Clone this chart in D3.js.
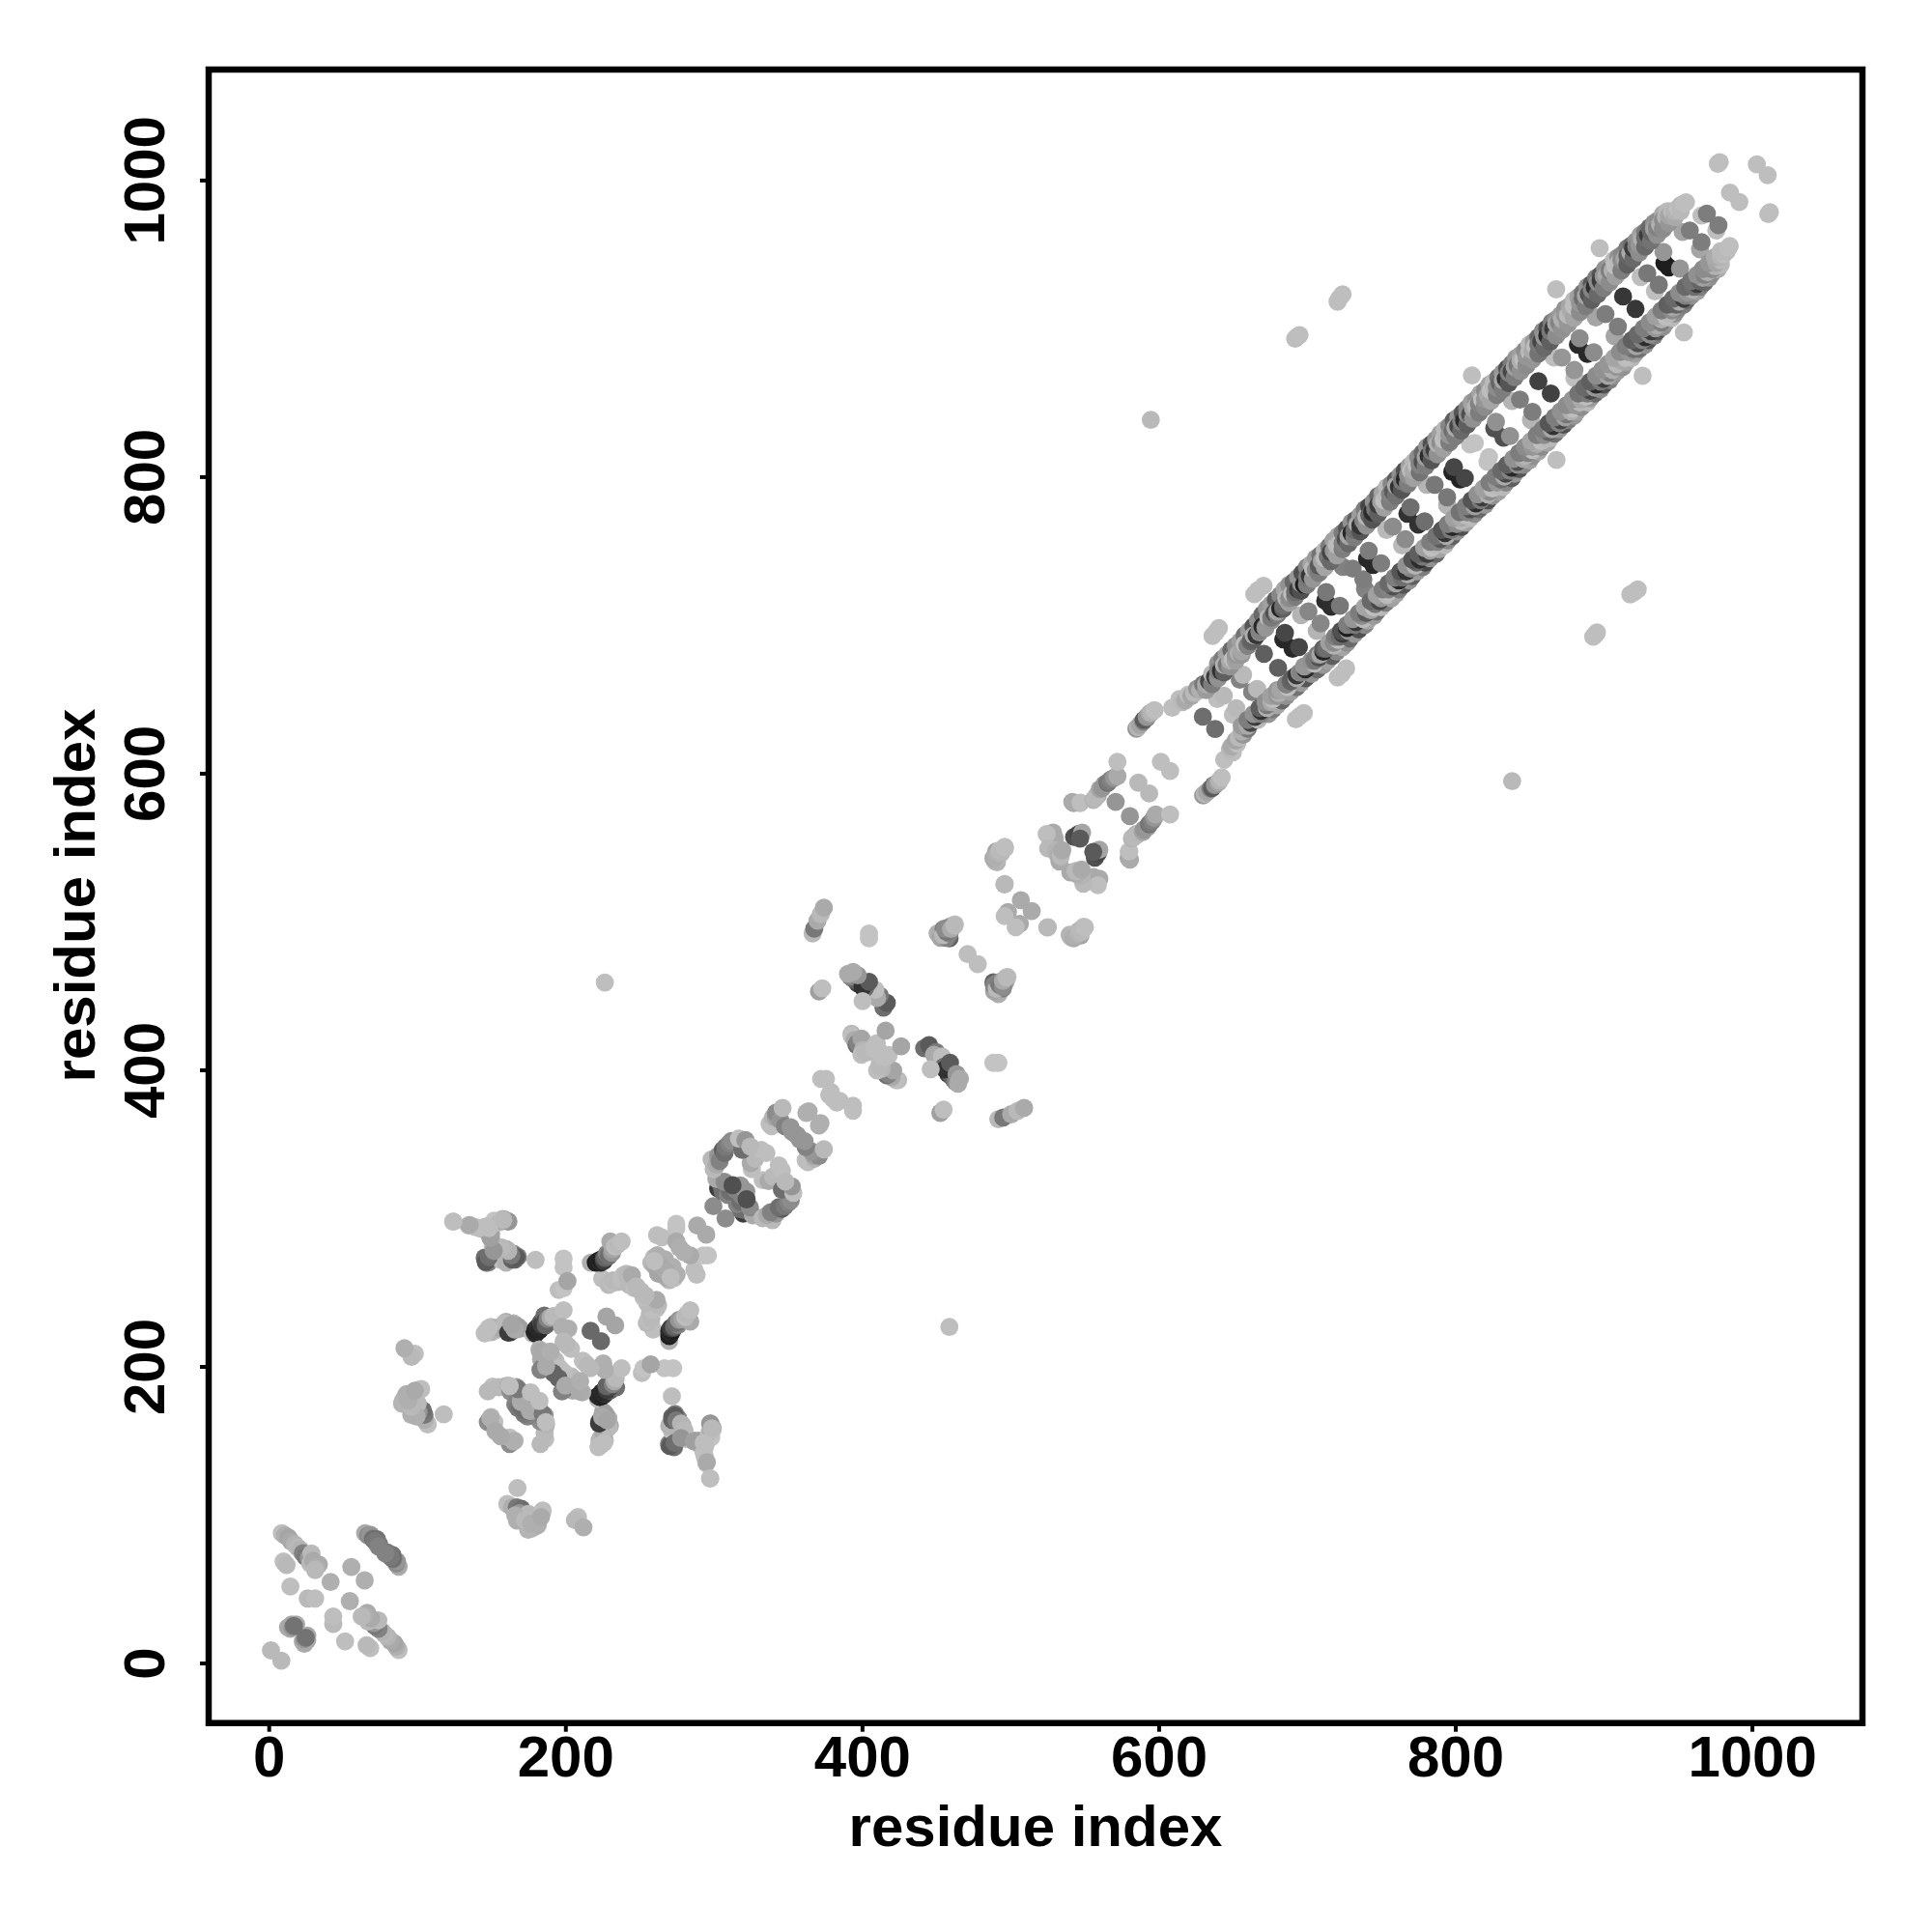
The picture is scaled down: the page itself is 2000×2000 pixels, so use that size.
<!DOCTYPE html>
<html>
<head>
<meta charset="utf-8">
<script src="https://cdn.jsdelivr.net/npm/d3@7"></script>
<style>
html,body{margin:0;padding:0;background:#fff;}
svg{display:block;}
text{font-family:"Liberation Sans",Arial,sans-serif;font-weight:bold;fill:#000;}
</style>
</head>
<body>
<svg id="chart" width="2000" height="2000"></svg>
<script>
// Each row: residue i, residue j, grey level. Every contact is shown at (i,j) and (j,i).
const tickLabels = [0, 200, 400, 600, 800, 1000];
const axisTitle = "residue index";

const originContacts = [
[1.5,8.5,185],[8.8,87.6,190],[10,68.4,190],[12,66,185],[11,86,175],[13.3,84.6,165],[15,82,170],[17.6,80.1,180],[19.5,78,185],[21.3,76.4,180],[23,74,130],[25,71.4,120],[27,71,150],[28,67,185],[28.8,73.9,185],[30,69,170],[33.8,66.4,170],[32,64.5,175],[31.3,62.7,185],
[55.7,64.7,175],[41.7,54.7,175],[14.6,51.5,190],[26.3,43.5,185],[31.3,43.5,190],[13,24,170],[14.5,23,170],[15.5,26,170],[18.5,26,170],[16,24,150],[17,25,115],
[65,87.6,170],[67,86,140],[68.7,86.4,150],[70,84,130],[72.9,83.4,115],[72.4,81.4,125],[70.5,83.5,110],[71.4,82.4,120],[74.5,80,120],[73.9,78.6,130]
];
const sideContacts = [
[92.3,179.9,170],[90.5,177,180],[94,176,175],[95,178,170],[101.6,184.3,175],[99,182,175],[89.9,174.9,180],[97,174,150],[100,170,125],[98.6,171.1,120],[103.6,169.9,130],[96.1,167.4,175],[106.6,161.9,185],[118,167.7,190],
[107.2,160.8,190],[105,164,175],[105,167.3,120],[103.9,170.5,110],[101,169,150],[97,176,170],[100.5,175,185],[99.6,166.2,175],[96.3,172.7,185],[94.1,177,175],[93,181.4,175],[102.8,184.7,190],[98.5,183.6,170],
[98.5,208.5,190],[96.3,206.4,185],[91.5,212.2,175],
[124.3,297.6,195],[134.7,295,190],[139,294,190],[143.4,292.9,195],[146,292,180],[147.7,291.8,165],[148,290,170],[149.9,289.6,160],[150,286,175],[152,298.3,195],[155,297,190],[157,298,170],[157.5,299.4,190],[159,299,165],[161.4,297.9,170],
[146.6,270,145],[148,270,130],[145.6,273.3,110],[149,272,120],[148.8,272.2,90],[150,274,170],[152,275.5,150],[151,281,190],[153,279,185],[154.3,278.7,185],[156,276,150],[157.5,277.7,190],[159,275,110],[160,279,155],[160.8,276,120],[162,274,70],[163,273,80],[156,272,190],[160,270,180],[164,272,100],[164,274.8,85],[165,276,130],[166,272,95],[168,274,130],[179.9,271.8,190],
[198.8,272.7,195],[198.8,266.8,195],[195.5,251.6,190],[198.8,252.7,195],[201.4,257.5,165]
];
const knotContacts = [
[145.6,222.3,190],[147,224,185],[148,224,190],[149.9,226.6,190],[150,223,185],[152,224,180],[152,226,180],[155,226,170],[158.6,228.8,175],[160,230,170],[160.8,225.5,140],[162,228,165],[162,225,110],[163,223,80],[164,226.6,150],[165,229,175],[166,226,150],[167,225,150],[169.5,225.5,165],
[178,222,185],[179.2,223.4,30],[180,222,40],[180,225,35],[181.4,226.6,50],[182.5,224.4,40],[183.6,229.9,90],[184,228,60],[185.8,234.2,110],[186,230,70],[186.8,227.7,100],[188,232,130],[190,233.1,170],[192,234,185],[198.8,237.9,190],[197.7,226.6,175],[202,225.5,175],
[227.7,233.6,165],[217,224,105],
[182.5,211.4,175],[183.6,204.9,170],[184.7,199.5,130],[189,199.5,100],[193.4,203.8,190],[202,213.6,185],[198.8,216.8,185],[203.8,211.8,190],
[200.5,215,185],[191.9,205.3,185],[196.2,198.8,190],[191.9,195.5,100],[183.2,197.7,130],[183.2,209.6,170],[187,200,170],[190,210,175],
[151,186.4,190],[147.7,183.2,185],[155,186,185],[158.6,186.4,185],[161,187,180],[163,183,140],[165.1,185.4,130],[167,186,150],[169.5,183.2,175],[174.9,182.1,190],[166.2,174.5,130],[168,172,120],[170,174,120],[172.7,170.1,110],[170,178,150],[174,176,140],[176,170,170],[168,184.7,120],[162.5,186.8,190],[176.7,182.5,190],
[147.7,162.5,140],[149.9,165.8,185],[152.1,162.5,190],[149.5,165.1,175],[152.8,156.4,170],
[168,227,160],[159.3,229.2,185],[146.3,222.7,190],[148.4,225.9,190],[161.5,222.7,60],[165.8,224.8,170],[163.6,228.1,165],
[166.9,273.7,90],[163.6,274.8,120],[161.5,278,180],[157.1,280.2,185],[146.3,270.5,90],[148.4,273.7,110],[151.7,278,150],[149.5,286.7,160],[148.4,293.3,190],[161.5,297.6,150],[158.2,298.7,185],[146.3,294.3,190],[141.9,293.3,190],[135.4,295.4,170],[124.5,297.6,190]
];
const shoulderContacts = [
[224.8,259.2,190],[229.2,254.9,185],[231.4,255.9,190],[232,258,185],[235.7,257,185],[238,259,190],[239,261.4,190],[241.1,262.5,185],[243,255,185],[244.8,261.4,170],[246.6,252.7,190],[248,254,185],[251,250.5,185],
[217.2,270,175],[220.5,270,30],[222,271,35],[223.8,270,40],[224,272,30],[225.9,271.1,60],[226,273,80],[227,273.3,100],[228,276,130],[229.2,274.4,110],[231.4,276.6,150],[232,279,165],[230.3,284.2,170],[233.5,280.9,190],[235,282,185],[237.9,284.2,190],
[261.8,288.5,190],[265,287,190],[274.8,296.1,195],[274.8,293,195],[274.8,284.2,170],[277,280,175],[288.9,295,170],
[258,270,185],[259.6,273.3,190],[260,268,170],[261.8,271.1,165],[262,275,175],[264,268,155],[266,270,165],[267.2,272.2,175],[262.9,262.5,165],[268,264,170],[271,260,190],
[299.8,308,140]
];
const ringContacts = [
[303,320,60],[305,322,100],[306,318,110],[309.4,315.7,130],[311,318,110],[315,319,130],[318,322,150],[301.8,326.5,170],[307.3,324.4,140],[312.7,322.2,80],[325.7,333,190],[325,337,170],[328,340,185],[332,346,190],
[298.6,339.6,185],[300,333,185],[302,336,170],[303,342,150],[304,338.5,130],[306.2,346,90],[307.3,343.9,110],[308,348,120],[310.5,350.4,130],[312,352,140],[319.2,346,110],[317,353.7,190],[321.4,352.6,150],[324.7,348.3,185],[335.5,343.9,190],
[337.7,363.5,190],[339,362,190],[339.9,367.8,180],[342,368,160],[342,371,140],[345,366,150],[346.4,374.3,185],[348,362,130],[351.8,361.3,150],[353,358,150],[356.2,355.9,150],[362.5,371,175],[364,372,175],
[372.4,393.9,190],[375.7,393.9,190],[377.9,383,190],[381,380,190],[385,379,190],
[393,424.3,185],[393,423,190],[395,420,170],[396.3,416.7,110],[397,418,130],[399.6,421,165],[400.7,413.4,180],[399.6,410.2,190],[402,412,185],[404,412,185],[408.3,415.6,190],[410,418,190],[412,412,190],[413.7,409,190],[415.9,426.4,165],
[414.5,441.9,110],[416.7,445.2,90],[412,450,120],[410.2,448.5,170],[405,452,170],[409,453.9,190],[403,457,150],[402,455,110],[397.1,458.2,60],[399,458,70],[396,460,90],[393.9,461.5,100],[392,463,130],[400.4,456,50],[404.7,459.3,90],[397.1,463.7,150],[394,466,170],[390.6,464.7,170],[400.4,446.3,190],
[404.7,488.6,195],[404.7,491.9,195],
[366.7,491.9,185],[367.8,495.2,120],[370,500.6,170],[372.2,504.9,185],[374.3,509.3,170],
[371,452.8,160],[373.2,455,190],[226.6,458.9,190]
];
const linkContacts = [
[451,492,175],[453.9,490.5,190],[453,489,165],[456,493,130],[457,491.6,100],[458.2,496,170],[455,494.9,120],[460,497,150],[462.6,498.1,190],[471.2,478,190],
[488.6,459,100],[489,457,130],[490.8,454.7,185],[491.9,459,130],[493,457,120],[495.1,455.8,140],[495,460,170],[497.3,462.3,185],[496.2,525.3,185],
[507.1,514.4,170],[498.4,506.4,170],[496.2,503.6,190],[524.9,496,185],
[540.8,489.5,185],[540,491,180],[543,490,175],[544,491.6,190],[546,492,170],[546.2,493.8,185],[547.3,490.5,165],[548,494,190],[549.4,496.4,190],
[488.6,542.7,170],[490,543,175],[491.9,545.9,180],[493,548,190],[494,547,185],[496.2,550.3,190],
[527,552,185],[528.8,560,170],[530,556,170],[524.5,559,190],[525.5,549.2,185],[531,548,180],[532,544.8,175],[533.1,540.5,170],[534,544,185],[535,548,170],
[543,557,80],[546,559,70],[547,557,80],[548.4,560,165],[547,555.9,90],[579.8,547,190],[579.8,542.7,165],
[541.8,580.7,170],[547.3,580.2,190],[556,582,180],[557,583,185],[559,585,175],
[558.1,584.9,185],[560.3,589.3,165],[562,590,150],[563.5,592.5,150],[565.7,593.6,100],[566,594,120],[567.9,595.8,130],[570,597,150],[572.2,598,170],[572.2,607.7,190],[571,580.6,150],
[601.5,607.7,190],[586.3,593.6,185],
[585,630,150],[586,631,180],[587.4,632.7,165],[589.6,634.9,130],[590,636,90],[591.8,637.1,100],[592,638,150],[593.9,640.3,165],[595,641,180],[597.2,642.5,190],[609.1,644.2,190]
];
const outlierContacts = [
[636.3,692.5,190],[638.5,695,190],[640.6,697.9,190],[664.5,720.7,190],[667,723.5,190],[670.7,726.4,190],
[692,893,190],[693.5,894.5,190],[695,895.5,190],[720.6,918,190],[722,920.5,190],[724,923,190],
[594.7,838.3,185],[811.2,868.2,190],[868,926.3,190],[897.3,954.1,190],
[978.3,1012.1,190],[977,1011,190],[1003.3,1010.6,190],[985.2,991.5,190]
];
const rungContacts = [
[629.8,638.1,110],[639.5,650,190],[643.9,652.3,185],[654.7,663,130],[656.9,666.4,185],[671,680.5,95],[684,690.3,40],[685.1,694.6,70],
[696,706.6,180],[701,709.2,135],[712.3,716.3,45],[712.9,722.2,120],[724.2,739.1,130],[730.8,738,125],[740.5,744.6,40],[741.6,750,125],
[753.6,764.1,185],[757.9,766.3,140],[767.7,775,50],[769.8,779.3,110],[780.7,794.5,180],[786.1,794.5,120],[798,803.2,35],[799.1,806.4,70],
[810,821.7,195],[813.2,822.7,195],[826.3,832.5,80],[827.4,836.9,145],[838.2,851,180],[843.6,852,125],[856,864.4,65],
[866.5,880.3,190],[871.9,880.3,150],[882.7,889,40],[883.8,893.3,140],[894.7,907.4,165],[901.2,909.6,125],[913.1,921.5,55],
[925,934.6,190],[929.4,937.2,120],[941,944,30],[940.3,951.5,150],[953.3,965,165],[958.1,966,125],[966,976,190],[969.6,977.4,125]
];
const strandContacts = [
[614,650,190],[616,648,185],[618,649,170],[620,653,190],[622,652,165],[624,654,185],[626,657,150],[628,656,175],[630,660,120],[632,660,170],
[634,662,70],[636,667,185],[638,665,60],[640,669,130],[642,669,50],[644,673,175],[646,673,120],[648,676,170],[650,677,190],[652,680,150],
[654,681,175],[656,682,165],[658,687,190],[660,686,130],[662,689,100],[664,693,170],[666,693,55],[668,696,130],[670,699,40],[672,698,150],
[674,705,185],[676,705,120],[678,708,80],[680,709,165],[682,711,35],[684,713,110],[686,718,180],[688,718,140],[690,721,190],[692,722,110],
[694,724,60],[696,728,150],[698,727,30],[700,732,120],[702,733,55],[704,738,185],[706,737,140],[708,740,90],[710,743,165],[712,745,190],
[714,746,120],[716,749,70],[718,750,150],[720,754,185],[722,755,190],[724,755,130],[726,758,80],[728,760,165],[730,762,40],[732,764,110],
[734,768,170],[736,767,50],[738,770,130],[740,773,180],[742,774,100],[744,776,45],[746,778,120],[748,781,60],[750,783,160],[752,784,190],
[754,787,185],[756,788,130],[758,790,90],[760,794,170],[762,793,50],[764,797,120],[766,798,40],[768,801,140],[770,804,185],[772,804,170],
[774,807,190],[776,808,130],[778,810,80],[780,813,160],[782,814,45],[784,817,120],[786,818,60],[788,822,175],[790,823,140],[792,825,190],
[794,827,185],[796,828,150],[798,831,110],[800,833,170],[802,834,70],[804,837,130],[806,838,40],[808,842,140],[810,842,80],[812,846,165],
[814,847,180],[816,849,130],[818,852,190],[820,852,150],[822,855,170],[824,858,190],[826,860,185],[828,860,140],[830,863,100],[832,865,165],
[834,866,50],[836,870,130],[838,871,70],[840,874,160],[842,875,120],[844,878,175],[846,879,190],[848,881,150],[850,884,185],[852,885,170],
[854,888,190],[856,889,120],[858,891,70],[860,894,150],[862,895,40],[864,898,120],[866,900,60],[868,903,165],[870,904,130],[872,906,175],
[874,909,150],[876,909,185],[878,912,170],[880,915,190],[882,917,190],[884,917,150],[886,920,110],[888,922,165],[890,923,80],[892,926,130],
[894,928,45],[896,931,140],[898,932,60],[900,935,150],[902,936,170],[904,939,125],[906,939,175],[908,942,190],[910,944,185],[912,946,140],
[914,947,165],[916,949,100],[918,951,170],[920,954,60],[922,955,130],[924,957,150],[926,960,175],[928,961,110],[930,963,60],[932,965,100],
[934,967,160],[936,968,130],[938,970,175],[940,973,140],[942,975,180],[944,976,165],[946,979,185],[948,979,180],[950,981,190],[952,983,185],
[954,984,190],[955.5,985,190]
];
const strandOuterContacts = [
[640,674,150],[643,677,125],[646,680,165],[649,683,105],[652,686,145],[655,689,160],[658,693,115],[661,696,155],[664,699,85],[667,703,145],[670,707,105],[673,711,150],[676,714,160],[679,717,95],[682,720,135],[685,724,165],[688,727,145],[691,729,105],[694,732,150],[697,735,80],
[700,739,135],[703,741,165],[706,745,155],[709,747,115],[712,750,185],[715,753,125],[718,757,160],[721,760,165],[724,762,125],[727,765,85],[730,769,145],[733,771,95],[736,774,155],[739,778,125],[742,780,70],[745,783,145],[748,787,105],[751,789,165],[754,793,185],[757,795,135],
[760,798,95],[763,801,145],[766,804,80],[769,807,160],[772,810,185],[775,813,140],[778,816,105],[781,820,150],[784,822,80],[787,825,145],[790,829,160],[793,832,185],[796,834,135],[799,838,95],[802,840,150],[805,843,85],[808,846,135],[811,850,160],[814,852,145],[817,856,165],
[820,858,140],[823,862,165],[826,864,185],[829,867,115],[832,870,150],[835,873,80],[838,876,125],[841,880,150],[844,882,160],[847,885,140],[850,889,185],[853,891,155],[856,894,105],[859,898,140],[862,900,80],[865,904,125],[868,906,145],[871,909,155],[874,913,145],[877,915,165],
[880,919,185],[883,921,160],[886,924,115],[889,928,145],[892,930,85],[895,934,125],[898,936,85],[901,940,145],[904,942,150],[907,946,185],[910,948,145],[913,950,135],[916,954,125],[919,956,105],[922,959,145],[925,963,160],[928,965,125],[931,968,105],[934,971,145],[937,973,140],
[940,977,170],[943,979,185]
];
const strandInnerContacts = [
[632,656,155],[636,660,125],[640,664,145],[644,668,95],[648,672,145],[652,676,160],[656,680,150],[660,686,125],[664,690,95],[668,695,145],[672,699,85],[676,703,145],[680,707,125],[684,711,95],[688,715,160],[692,719,125],[696,723,80],[700,727,125],[704,731,150],[708,735,125],
[712,739,165],[716,743,105],[720,747,160],[724,751,125],[728,755,105],[732,759,125],[736,763,85],[740,767,145],[744,771,85],[748,775,95],[752,779,160],[756,783,125],[760,787,115],[764,791,85],[768,795,125],[772,799,160],[776,803,115],[780,807,125],[784,811,85],[788,815,145],
[792,819,160],[796,823,125],[800,827,125],[804,831,105],[808,835,95],[812,839,145],[816,843,125],[820,847,140],[824,851,165],[828,855,125],[832,859,125],[836,863,85],[840,867,125],[844,871,145],[848,875,140],[852,879,150],[856,883,115],[860,887,105],[864,891,95],[868,895,140],
[872,899,145],[876,903,150],[880,907,165],[884,911,140],[888,915,125],[892,919,95],[896,923,105],[900,927,125],[904,931,140],[908,935,160],[912,939,125],[916,943,95],[920,947,105],[924,951,140],[928,955,105],[932,959,115],[936,963,145],[940,967,140],[944,971,150],[948,975,170],
[952,979,185]
];

const looseGroups = [originContacts, sideContacts, knotContacts, shoulderContacts, ringContacts, linkContacts, outlierContacts, rungContacts];
const strandGroups = [strandOuterContacts, strandInnerContacts, strandContacts];

const frame = {left: 216, right: 1928, top: 72, bottom: 1783.7};
const x = d3.scaleLinear().domain([-40.5, 1074.5]).range([frame.left, frame.right]);
const y = d3.scaleLinear().domain([-40.5, 1074.5]).range([frame.bottom, frame.top]);
const svg = d3.select("#chart");

const bothWays = ([i, j, g]) => [{a: i, b: j, g}, {a: j, b: i, g}];
const strandRows = strandGroups.flat().sort((p, q) => p[0] - q[0]);
const points = looseGroups.flat().flatMap(bothWays).concat(strandRows.flatMap(bothWays));
svg.append("g").selectAll("circle").data(points).join("circle")
  .attr("cx", d => x(d.a)).attr("cy", d => y(d.b)).attr("r", 9.4)
  .attr("fill", d => d3.rgb(d.g, d.g, d.g));

const xAxis = svg.append("g").attr("transform", `translate(0,${frame.bottom})`)
  .call(d3.axisBottom(x).tickValues(tickLabels).tickFormat(d3.format("d")).tickSize(9).tickSizeOuter(0));
const yAxis = svg.append("g").attr("transform", `translate(${frame.left},0)`)
  .call(d3.axisLeft(y).tickValues(tickLabels).tickFormat(d3.format("d")).tickSize(9).tickSizeOuter(0));
[xAxis, yAxis].forEach(a => {
  a.select(".domain").remove();
  a.selectAll("line").attr("stroke", "#000").attr("stroke-width", 4);
  a.selectAll("text").attr("font-size", 60).attr("fill", "#000");
});
xAxis.selectAll("text").attr("y", 55).attr("dy", 0).attr("text-anchor", "middle");
yAxis.selectAll("text").attr("x", 0).attr("dy", 0).attr("text-anchor", "middle")
  .attr("transform", "translate(-46,0) rotate(-90)");

svg.append("rect").attr("x", frame.left).attr("y", frame.top)
  .attr("width", frame.right - frame.left).attr("height", frame.bottom - frame.top)
  .attr("fill", "none").attr("stroke", "#000").attr("stroke-width", 6.5);

svg.append("text").attr("x", 1072).attr("y", 1911).attr("text-anchor", "middle").attr("font-size", 60).text(axisTitle);
svg.append("text").attr("transform", "translate(98,927) rotate(-90)").attr("text-anchor", "middle").attr("font-size", 60).text(axisTitle);
</script>
</body>
</html>
